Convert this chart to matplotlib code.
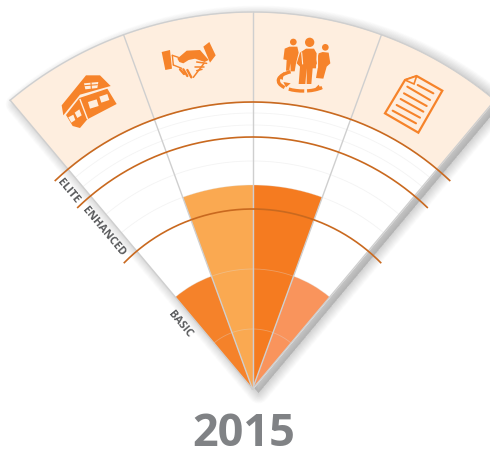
import numpy as np
import matplotlib
matplotlib.use('Agg')
import matplotlib.pyplot as plt
from matplotlib.patches import Polygon, Circle, Arc
from matplotlib.transforms import Affine2D

# sectors and values
sector_edges = [-40, -20, 0, 20, 40]
bar_values = [120, 204, 204, 120]
bar_colors = ['#F5822A', '#FAA951', '#F57B20', '#F9945C']

band_names = ['BASIC', 'ENHANCED', 'ELITE']
band_radii = [180, 252, 287]
band_ends = [45.4, 43.9, 43.4]
grid_levels = [60, 120, 204, 228, 264, 276]
outer_radius = 377

orange = '#F6832A'
cream = '#FEEEDF'
arc_col = '#C9691F'
spoke_col = '#CFCFCF'

W, H = 490, 449
cx, cy = 252.5, 389
R = 400

fig = plt.figure(figsize=(W / 100, H / 100), dpi=100)
ax = fig.add_axes([(cx - R) / W, (H - cy - R) / H, 2 * R / W, 2 * R / H],
                  projection='polar')
ax.set_theta_zero_location('N')
ax.set_theta_direction(-1)
ax.axis('off')

t_all = np.radians(np.linspace(-40, 40, 200))

# soft shadow behind the fan
sh_t = np.concatenate([[0], t_all, [0]])
sh_r = np.concatenate([[0], np.full(200, outer_radius), [0]])
off = ax.transData + Affine2D().translate(6, -4)
for i in range(16):
    ax.fill(sh_t, sh_r, transform=off, facecolor='#555555', edgecolor='#555555',
            alpha=0.016, lw=1.0 * i, joinstyle='round', zorder=1)

# top band + white centre
ax.fill_between(t_all, band_radii[-1], outer_radius, color=cream, lw=0, zorder=2)
ax.fill_between(t_all, 0, band_radii[-1], color='white', lw=0, zorder=2)

# value wedges
for i, v in enumerate(bar_values):
    w = np.radians(sector_edges[i + 1] - sector_edges[i])
    mid = np.radians((sector_edges[i + 1] + sector_edges[i]) / 2)
    ax.bar(mid, v, width=w, bottom=0, color=bar_colors[i], lw=0, zorder=3)

# faint grid
for g in grid_levels:
    ax.plot(t_all, np.full(200, g), color='#DEDEDE', lw=0.6, alpha=0.35, zorder=4)

# spokes and outer rim
for e in sector_edges:
    ax.plot([np.radians(e)] * 2, [0, outer_radius], color=spoke_col, lw=1.0, zorder=5)
ax.plot(t_all, np.full(200, outer_radius), color=spoke_col, lw=1.0, zorder=5)

# band boundaries
for r, e in zip(band_radii, band_ends):
    t = np.radians(np.linspace(-e, e, 300))
    ax.plot(t, np.full(300, r), color=arc_col, lw=1.2, zorder=6)
ax.set_ylim(0, R)

# overlay in pixel space for icons and labels
ov = fig.add_axes([0, 0, 1, 1])
ov.set_xlim(0, W)
ov.set_ylim(H, 0)
ov.axis('off')
ov.patch.set_alpha(0)


def zpts(pts, ox, oy, s=3.0):
    return [(ox + x / s, oy + y / s) for x, y in pts]


def poly(pts, ox, oy, fc=orange, s=3.0):
    ov.add_patch(Polygon(zpts(pts, ox, oy, s), closed=True, fc=fc, ec='none', zorder=10))


def seg(a, b, ox, oy, lw=1.6, col=orange):
    p = zpts([a, b], ox, oy)
    ov.plot([p[0][0], p[1][0]], [p[0][1], p[1][1]], color=col, lw=lw,
            solid_capstyle='round', zorder=11)


# house
poly([(185, 316), (258, 226), (300, 226), (332, 258), (240, 284), (190, 346)], 0, 0)
poly([(198, 345), (238, 294), (322, 266), (350, 312), (262, 358), (240, 384), (218, 378)], 0, 0)
seg((240, 298), (262, 356), 0, 0, lw=1.0, col=cream)
poly([(252, 250), (295, 246), (292, 264), (256, 268)], 0, 0, fc=cream)
seg((254, 257), (292, 254), 0, 0, lw=0.8)
seg((273, 248), (274, 266), 0, 0, lw=0.8)
poly([(264, 306), (290, 298), (296, 318), (270, 326)], 0, 0, fc=cream)
poly([(298, 290), (322, 282), (328, 300), (304, 308)], 0, 0, fc=cream)
poly([(205, 352), (220, 344), (226, 360), (214, 368)], 0, 0, fc=cream)
poly([(224, 338), (238, 328), (245, 346), (232, 354)], 0, 0, fc=cream)

# handshake
poly([(485, 156), (510, 150), (516, 206), (496, 210)], 0, 0)
poly([(610, 140), (628, 126), (647, 166), (630, 188)], 0, 0)
poly([(532, 176), (560, 152), (600, 150), (626, 180), (614, 186), (585, 176),
      (566, 180), (550, 190), (538, 186)], 0, 0)
for a, b in [((517, 166), (535, 172)), ((517, 166), (520, 195)), ((520, 195), (545, 205))]:
    seg(a, b, 0, 0, lw=1.0)
for a, b in [((590, 186), (620, 190)), ((585, 200), (612, 200)), ((590, 212), (606, 208)),
             ((612, 190), (580, 232))]:
    seg(a, b, 0, 0, lw=1.1)
for a, b in [((540, 208), (552, 222)), ((550, 208), (562, 228)), ((562, 210), (574, 232))]:
    seg(a, b, 0, 0, lw=1.7)

# team of three
for x, y, r in [(130, 126, 10), (179, 127, 14), (226, 142, 10)]:
    p = zpts([(x, y)], 250, 0)[0]
    ov.add_patch(Circle(p, r / 3, fc=orange, ec='none', zorder=10))
poly([(150, 158), (168, 146), (192, 146), (200, 160), (198, 205), (188, 205), (184, 252),
      (170, 252), (170, 205), (166, 252), (146, 252), (150, 200), (140, 190)], 250, 0)
poly([(104, 146), (118, 140), (142, 140), (146, 158), (138, 190), (134, 214), (122, 214),
      (121, 190), (118, 212), (108, 212), (110, 180), (100, 178)], 250, 0)
poly([(206, 160), (218, 156), (236, 158), (241, 190), (230, 200), (220, 236), (198, 234),
      (204, 200), (198, 190)], 250, 0)
for c1, c2 in [((155, 158), (158, 192)), ((200, 160), (200, 200))]:
    seg(c1, c2, 250, 0, lw=0.8, col=cream)
ec = zpts([(160, 242)], 250, 0)[0]
for t1, t2 in [(20, 70), (85, 150), (160, 215)]:
    ov.add_patch(Arc(ec, 150 / 3, 62 / 3, theta1=t1, theta2=t2, color=orange, lw=2.4, zorder=10))
poly([(100, 246), (122, 250), (108, 262)], 250, 0)
poly([(190, 270), (206, 254), (214, 270)], 250, 0)
poly([(84, 232), (102, 216), (98, 240)], 250, 0)

# document
doc = zpts([(75, 30), (110, 18), (187, 62), (115, 188), (15, 130)], 380, 70)
ov.add_patch(Polygon(doc, closed=True, fc='none', ec=orange, lw=1.6, joinstyle='miter', zorder=10))
ov.add_patch(Polygon(zpts([(75, 30), (102, 42), (110, 18)], 380, 70), closed=True,
                     fc=cream, ec=orange, lw=1.2, zorder=11))
for a, b in [((113, 45), (160, 70)), ((82, 50), (150, 90)), ((72, 70), (140, 108)),
             ((62, 87), (130, 125)), ((50, 105), (120, 143)), ((38, 122), (108, 160))]:
    seg(a, b, 380, 70, lw=1.5)

# band labels along the left spoke
label_pos = {'BASIC': (180, 324), 'ENHANCED': (103.5, 232), 'ELITE': (68, 191)}
for name in band_names:
    ov.text(*label_pos[name], name, rotation=-50, rotation_mode='anchor', ha='center', va='center',
            fontsize=7.8, fontweight='bold', family='Open Sans', color='#58595B', zorder=12)

ov.text(244, 446.5, '2015', ha='center', va='baseline', fontsize=32.5, fontweight='bold',
        family='Open Sans', color='#808285', zorder=12)

plt.savefig('out.png', dpi=100)
